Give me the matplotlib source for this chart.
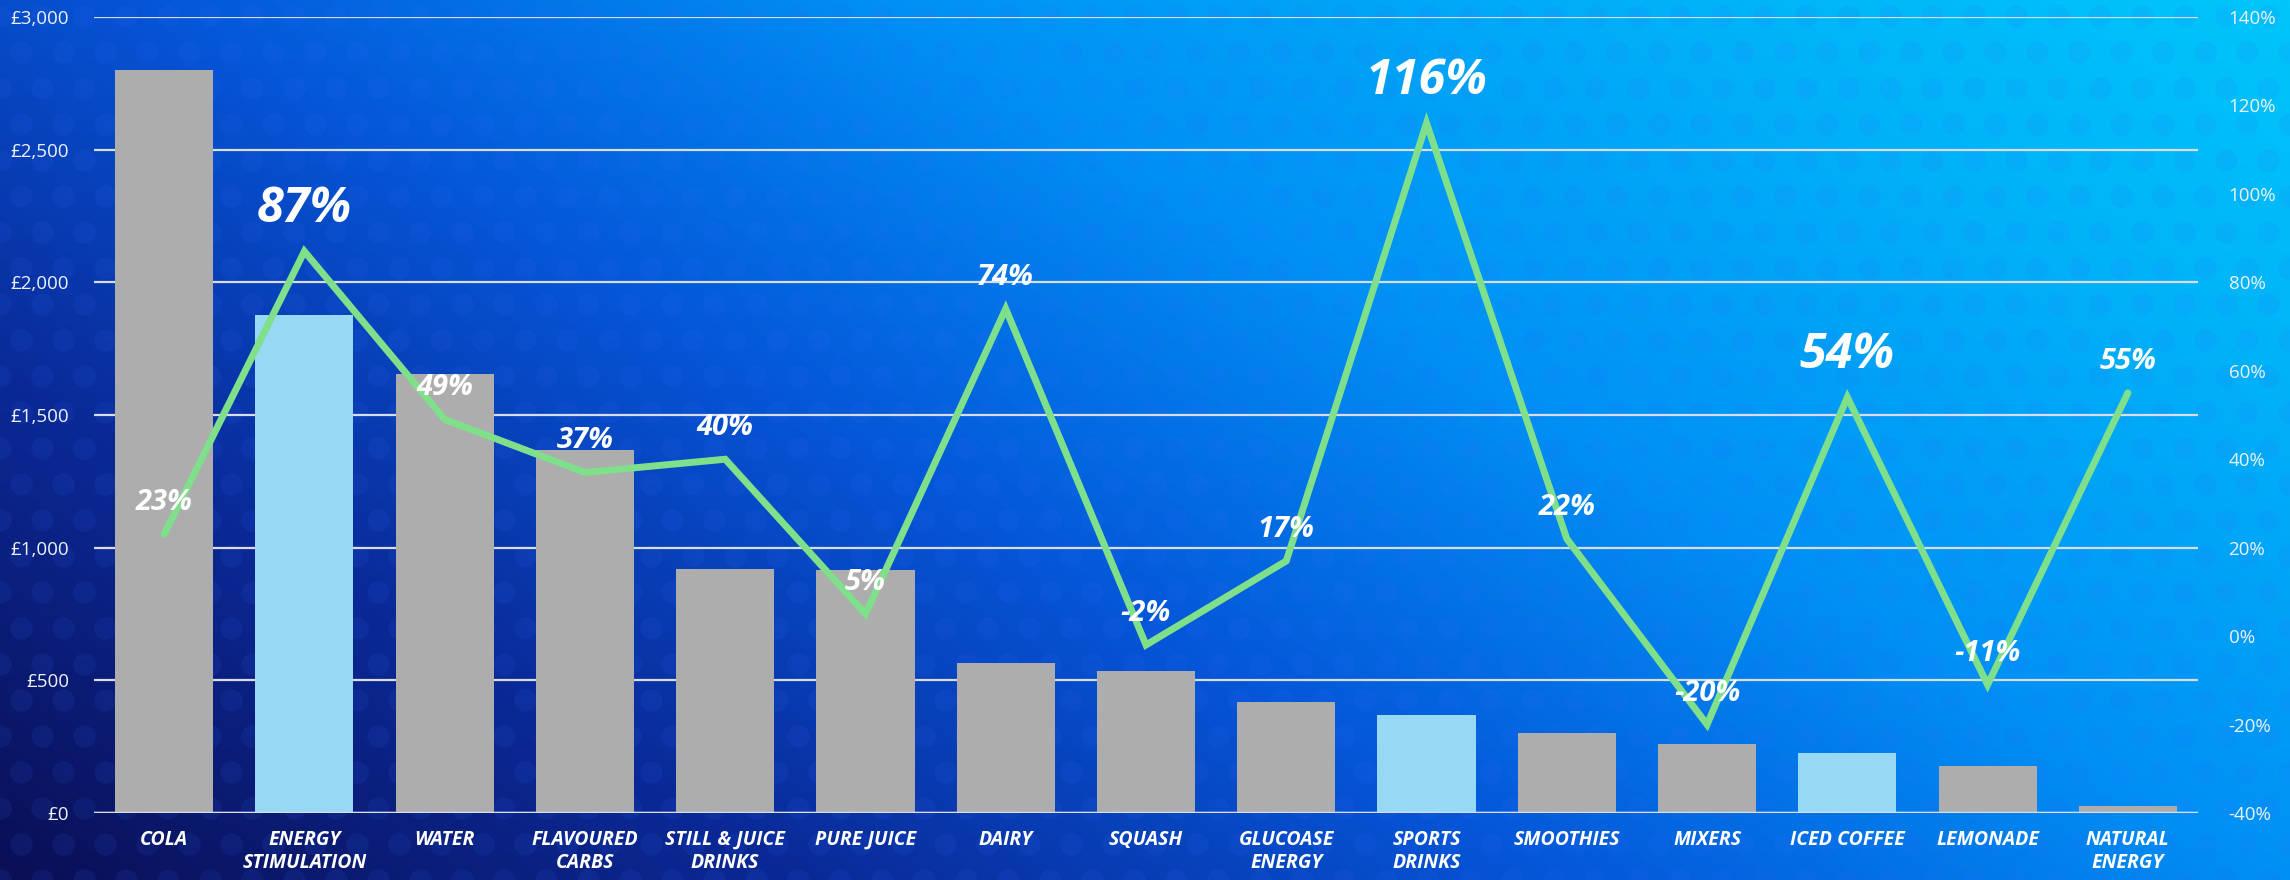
import numpy as np
import matplotlib
matplotlib.use("Agg")
import matplotlib.pyplot as plt
from matplotlib.colors import LinearSegmentedColormap
from matplotlib.ticker import FuncFormatter, MultipleLocator

categories = ["COLA", "ENERGY\nSTIMULATION", "WATER", "FLAVOURED\nCARBS", "STILL & JUICE\nDRINKS",
              "PURE JUICE", "DAIRY", "SQUASH", "GLUCOASE\nENERGY", "SPORTS\nDRINKS",
              "SMOOTHIES", "MIXERS", "ICED COFFEE", "LEMONADE", "NATURAL\nENERGY"]
sales = [2800, 1875, 1655, 1368, 918, 915, 567, 534, 418, 369, 303, 259, 226, 176, 28]
growth = [23, 87, 49, 37, 40, 5, 74, -2, 17, 116, 22, -20, 54, -11, 55]
highlight = [False, True, False, False, False, False, False, False, False, True,
             False, False, True, False, False]
big_label = [False, True, False, False, False, False, False, False, False, True,
             False, False, True, False, False]

plt.rcParams['font.family'] = ['Open Sans', 'DejaVu Sans']

W, H = 2290, 880
fig = plt.figure(figsize=(W / 100, H / 100), dpi=100)

# background gradient
bg = fig.add_axes([0, 0, 1, 1])
xx, yy = np.meshgrid(np.linspace(0, 1, 400), np.linspace(0, 1, 160))
t = np.clip(0.62 * xx + 0.38 * yy, 0, 1)
cmap_bg = LinearSegmentedColormap.from_list(
    "bg", [(0.0, "#0b0f55"), (0.22, "#0a2a98"), (0.42, "#0556d8"),
           (0.62, "#0090f5"), (0.82, "#00b0f8"), (1.0, "#00c6fa")])
bg.imshow(t, cmap=cmap_bg, aspect="auto", origin="lower", extent=[0, 1, 0, 1])
# subtle halftone dots (decoration)
gx, gy = np.meshgrid(np.arange(0, W + 40, 42), np.arange(0, H + 40, 36))
gx = gx + (np.arange(gy.shape[0])[:, None] % 2) * 21
bg.scatter(gx.ravel() / W, gy.ravel() / H, s=260, color="#3a6cff", alpha=0.10,
           linewidths=0)
bg.set_xlim(0, 1)
bg.set_ylim(0, 1)
bg.set_axis_off()

ax = fig.add_axes([94 / W, 1 - 813 / H, (2198 - 94) / W, (813 - 17) / H])
ax.patch.set_alpha(0)
x = np.arange(len(categories))
colors = ["#97d9f5" if h else "#adadad" for h in highlight]
ax.bar(x, sales, width=0.70, color=colors, zorder=3)
ax.set_xlim(-0.5, len(categories) - 0.5)
ax.set_ylim(0, 3000)
ax.yaxis.set_major_locator(MultipleLocator(500))
ax.yaxis.set_major_formatter(FuncFormatter(lambda v, p: f"£{v:,.0f}"))
ax.grid(axis="y", color="#d8dde8", lw=1.6, zorder=1)
for s in ax.spines.values():
    s.set_visible(False)
ax.axhline(0, color="#d8dde8", lw=2.5, zorder=4)
ax.set_xticks(x)
ax.set_xticklabels(categories, fontsize=14, fontweight="bold", fontstyle="italic",
                   color="white", linespacing=1.2)
ax.tick_params(axis="x", length=0, pad=12)
ax.tick_params(axis="y", length=0, pad=18, labelsize=13.5, labelcolor="#eef3fb")

ax2 = ax.twinx()
ax2.set_ylim(-40, 140)
ax2.yaxis.set_major_locator(MultipleLocator(20))
ax2.yaxis.set_major_formatter(FuncFormatter(lambda v, p: f"{v:.0f}%"))
ax2.tick_params(axis="y", length=0, pad=22, labelsize=13.5, labelcolor="#eef3fb")
for s in ax2.spines.values():
    s.set_visible(False)
ax2.plot(x, growth, color="#7fdf8a", lw=5, solid_capstyle="round",
         solid_joinstyle="miter", zorder=5)
for xi, g, big in zip(x, growth, big_label):
    ax2.annotate(f"{g}%", (xi, g), xytext=(0, 29 if big else 24), textcoords="offset pixels",
                 ha="center", va="baseline", color="white", fontweight="bold",
                 fontstyle="italic", fontsize=35 if big else 21, zorder=6)

fig.savefig("out.png", dpi=100)
